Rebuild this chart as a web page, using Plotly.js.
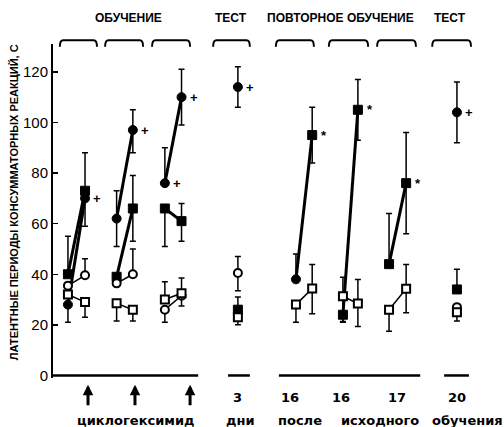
<!DOCTYPE html>
<html><head><meta charset="utf-8">
<script src="https://cdn.plot.ly/plotly-3.0.1.min.js"></script>
<style>html,body{margin:0;padding:0;background:#fff}#chart{width:504px;height:427px}</style>
</head><body><div id="chart"></div>
<script>
// trial positions (abstract units along x) and the block each trial belongs to
const slotX     = [3.5, 7.5, 14.9, 18.7, 26.2, 30.1, 43.3, 56.9, 60.7, 67.9, 71.4, 78.7, 82.7, 94.6];
const slotGroup = [0, 0, 1, 1, 2, 2, 3, 4, 4, 5, 5, 6, 6, 7];

// latency values, s  (null = no point)
const filledCircle = [28, 70, 62, 97, 76, 110, 114, null, null, null, null, null, null, 104];
const filledSquare = [40, 73, 39, 66, 66, 61, 26, 38, 95, 24, 105, 44, 76, 34];
const openCircle   = [35.5, 39.6, 36.4, 40, 26, 31.5, 40.5, null, null, null, null, null, null, 27];
const openSquare   = [32, 29, 28.5, 26, 30, 32.5, 23, 28, 34.4, 31.3, 28.4, 26, 34.3, 25];

// error bars (up / down)
const fcUp   = [0, 0, 11, 8, 14, 11, 8, 0, 0, 0, 0, 0, 0, 12];
const fcDown = [7, 11, 11, 9, 0, 11, 8, 0, 0, 0, 0, 0, 0, 12];
const fsUp   = [15, 15, 0, 13, 0, 7, 5, 10, 11, 0, 12, 20, 20, 8];
const fsDown = [0, 0, 0, 13, 15, 8, 0, 0, 11, 3, 12, 0, 20, 0];
const ocUp   = [0, 6.5, 0, 10, 0, 0, 6.5, 0, 0, 0, 0, 0, 0, 0];
const ocDown = [0, 0, 0, 0, 5, 0, 7, 0, 0, 0, 0, 0, 0, 0];
const osUp   = [0, 0, 0, 0, 7, 6, 0, 0, 9.5, 7.5, 9.5, 0, 9.6, 0];
const osDown = [0, 6, 7, 4.5, 0, 5, 3, 7, 10, 10, 9, 8.5, 9.5, 3.5];

// significance marks
const fcSig = ['', '+', '', '+', '+', '+', '+', '', '', '', '', '', '', '+'];
const fsSig = ['', '', '', '', '', '', '', '', '*', '', '*', '', '*', ''];
const fsShape = ['square','square','square','square','square','square','square','circle','square','square','square','square','square','square'];

// labels
const headers = ['ОБУЧЕНИЕ', 'ТЕСТ', 'ПОВТОРНОЕ ОБУЧЕНИЕ', 'ТЕСТ'];
const headerX = [17.6, 41.7, 67.4, 93];
const brackets = [[1.6,10.3],[12.2,21.1],[23.2,32.1],[37.5,46.1],[52.2,61.1],[64.6,73.8],[75.9,85],[88.8,97.9]];
const xSegments = [[0,34],[41,46.1],[52.9,86],[91.6,97.4]];
const dayLabels = ['3', '16', '16', '17', '20'];
const dayX = [43.3, 55.5, 67.4, 80.6, 94.6];
const words = ['циклогексимид', 'дни', 'после', 'исходного', 'обучения'];
const wordX = [19.4, 44, 57.8, 76.6, 97];
const arrowX = [8.2, 19.2, 32.1];
const yTitle = 'ЛАТЕНТНЫЕ ПЕРИОДЫ КОНСУММАТОРНЫХ РЕАКЦИЙ, С';

function build(vals, up, down, shapes, defShape) {
  const x = [], y = [], eu = [], ed = [], sym = [];
  let prevG = null;
  vals.forEach((v, i) => {
    if (v === null) return;
    if (prevG !== null && slotGroup[i] !== prevG) { x.push(null); y.push(null); eu.push(0); ed.push(0); sym.push(defShape); }
    x.push(slotX[i]); y.push(v); eu.push(up[i]); ed.push(down[i]);
    sym.push(shapes ? shapes[i] : defShape);
    prevG = slotGroup[i];
  });
  return {x, y, eu, ed, sym};
}

function trace(d, opts) {
  return {
    type: 'scatter', mode: 'lines+markers', x: d.x, y: d.y, connectgaps: false,
    cliponaxis: false,
    line: {color: '#000', width: opts.lw},
    marker: {symbol: d.sym, size: opts.ms, color: opts.fill, line: {color: '#000', width: opts.mlw}},
    error_y: {type: 'data', symmetric: false, array: d.eu, arrayminus: d.ed, color: '#000', thickness: 1.5, width: 3},
    showlegend: false, hoverinfo: 'skip'
  };
}

const dFC = build(filledCircle, fcUp, fcDown, null, 'circle');
const dFS = build(filledSquare, fsUp, fsDown, fsShape, 'square');
const dOC = build(openCircle, ocUp, ocDown, null, 'circle');
const dOS = build(openSquare, osUp, osDown, null, 'square');

const data = [
  trace(dFC, {lw: 3, ms: 9, fill: '#000', mlw: 1}),
  trace(dFS, {lw: 3, ms: 9, fill: '#000', mlw: 1}),
  trace(dOC, {lw: 1.5, ms: 8, fill: '#fff', mlw: 2}),
  trace(dOS, {lw: 1.5, ms: 8, fill: '#fff', mlw: 2})
];

const font = 'Arial, Liberation Sans, sans-serif';
const dv = 'DejaVu Sans, sans-serif';
const ann = [];
function txt(o) { return Object.assign({showarrow: false, xanchor: 'center', yanchor: 'middle'}, o); }
fcSig.forEach((s, i) => { if (s) ann.push(txt({x: slotX[i], y: filledCircle[i], xref: 'x', yref: 'y', text: '<b>' + s + '</b>', xshift: 12, font: {family: font, size: 13, color: '#000'}})); });
fsSig.forEach((s, i) => { if (s) ann.push(txt({x: slotX[i], y: filledSquare[i], xref: 'x', yref: 'y', text: '<b>' + s + '</b>', xshift: 12, font: {family: font, size: 13, color: '#000'}})); });
headers.forEach((h, i) => ann.push(txt({x: headerX[i], y: 1.078, xref: 'x', yref: 'paper', text: '<b>' + h + '</b>', font: {family: font, size: 12, color: '#000'}})));
dayLabels.forEach((h, i) => ann.push(txt({x: dayX[i], y: -0.057, xref: 'x', yref: 'paper', text: '<b>' + h + '</b>', font: {family: dv, size: 13, color: '#000'}})));
words.forEach((h, i) => ann.push(txt({x: wordX[i], y: -0.126, xref: 'x', yref: 'paper', text: '<b>' + h + '</b>', font: {family: dv, size: 13, color: '#000'}})));
arrowX.forEach(x => ann.push({x: x, y: -0.02, xref: 'x', yref: 'paper', text: '', showarrow: true, ax: 0, ay: 22, arrowhead: 2, arrowsize: 0.7, arrowwidth: 3, arrowcolor: '#000'}));
ann.push(txt({x: -0.091, y: 0.527, xref: 'paper', yref: 'paper', text: '<b>' + yTitle + '</b>', textangle: -90, font: {family: font, size: 11, color: '#000'}}));

const shapes = [];
xSegments.forEach(s => shapes.push({type: 'line', xref: 'x', yref: 'y', x0: s[0], x1: s[1], y0: 0, y1: 0, line: {color: '#000', width: 2.5}}));
brackets.forEach(b => {
  const r = 0.8, top = 1.011, bot = 0.992;
  shapes.push({type: 'path', xref: 'x', yref: 'paper',
    path: `M${b[0]},${bot} Q${b[0]},${top} ${b[0]+r},${top} L${b[1]-r},${top} Q${b[1]},${top} ${b[1]},${bot}`,
    line: {color: '#000', width: 2}});
});

const layout = {
  width: 504, height: 427,
  margin: {l: 53, r: 24, t: 44, b: 49},
  paper_bgcolor: '#fff', plot_bgcolor: '#fff',
  xaxis: {range: [0, 100], visible: false, fixedrange: true},
  yaxis: {range: [-1, 131], tickvals: [0, 20, 40, 60, 80, 100, 120], ticks: 'inside', ticklen: 5, tickwidth: 1.5, tickcolor: '#000',
    showline: true, linecolor: '#000', linewidth: 2, showgrid: false, zeroline: false,
    tickfont: {family: font, size: 15, color: '#000'}, ticklabelstandoff: 0},
  shapes: shapes, annotations: ann
};

Plotly.newPlot('chart', data, layout, {staticPlot: true});
</script></body></html>
